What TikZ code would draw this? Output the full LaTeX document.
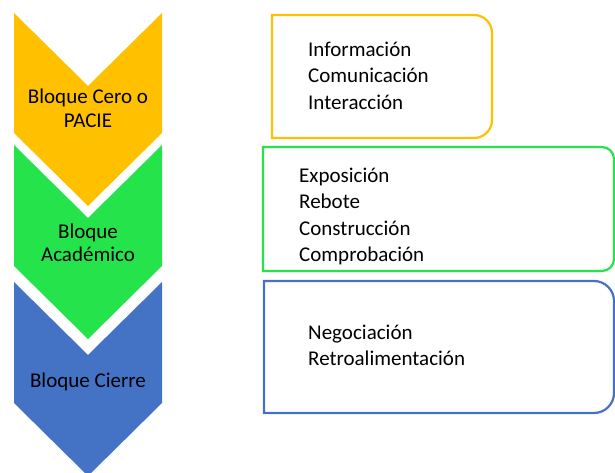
\documentclass[tikz,border=0pt]{standalone}
\usepackage{fontspec}
\setmainfont{Carlito}
\definecolor{ycol}{HTML}{FFC000}
\definecolor{gcol}{HTML}{24E34B}
\definecolor{bcol}{HTML}{4472C4}
\begin{document}
\begin{tikzpicture}[x=1pt,y=1pt,
  lbl/.style={inner sep=0pt,font=\fontsize{21}{25}\selectfont,text=black},
  itemtxt/.style={lbl,anchor=base west},
  chevtxt/.style={lbl,anchor=base},
  boxline/.style={line width=2.2pt}]
\useasboundingbox (0,0) rectangle (615,472);
% chevrons
\fill[ycol] (14,459) -- (88,386) -- (162,459) -- (162,339) -- (88,266) -- (14,339) -- cycle;
\fill[gcol] (14,327) -- (88,254) -- (162,327) -- (162,206) -- (88,133) -- (14,206) -- cycle;
\fill[bcol] (14,190) -- (88,117) -- (162,190) -- (162,69) -- (88,-4) -- (14,69) -- cycle;
\node[chevtxt] (c1a) at (88,368) {Bloque Cero o};
\node[chevtxt] (c1b) at (88,344) {PACIE};
\node[chevtxt] (c2a) at (88,234) {Bloque};
\node[chevtxt] (c2b) at (88,211) {Académico};
\node[chevtxt] (c3a) at (88,85) {Bloque Cierre};
% boxes
\draw[boxline,ycol] (272,457) -- (474,457) arc[start angle=90,end angle=0,radius=18] -- (492,352) arc[start angle=0,end angle=-90,radius=18] -- (272,334) -- cycle;
\draw[boxline,gcol] (263,325) -- (602,325) arc[start angle=90,end angle=0,radius=12] -- (614,213) arc[start angle=0,end angle=-90,radius=12] -- (263,201) -- cycle;
\draw[boxline,bcol] (264,191) -- (594,191) arc[start angle=90,end angle=0,radius=20] -- (614,79) arc[start angle=0,end angle=-90,radius=20] -- (264,59) -- cycle;
\node[itemtxt] (y1) at (308,415) {Información};
\node[itemtxt] (y2) at (308,389) {Comunicación};
\node[itemtxt] (y3) at (308,362) {Interacción};
\node[itemtxt] (g1) at (299,290) {Exposición};
\node[itemtxt] (g2) at (299,264) {Rebote};
\node[itemtxt] (g3) at (299,237) {Construcción};
\node[itemtxt] (g4) at (299,211) {Comprobación};
\node[itemtxt] (b1) at (308,133) {Negociación};
\node[itemtxt] (b2) at (308,107) {Retroalimentación};
\end{tikzpicture}
\end{document}
